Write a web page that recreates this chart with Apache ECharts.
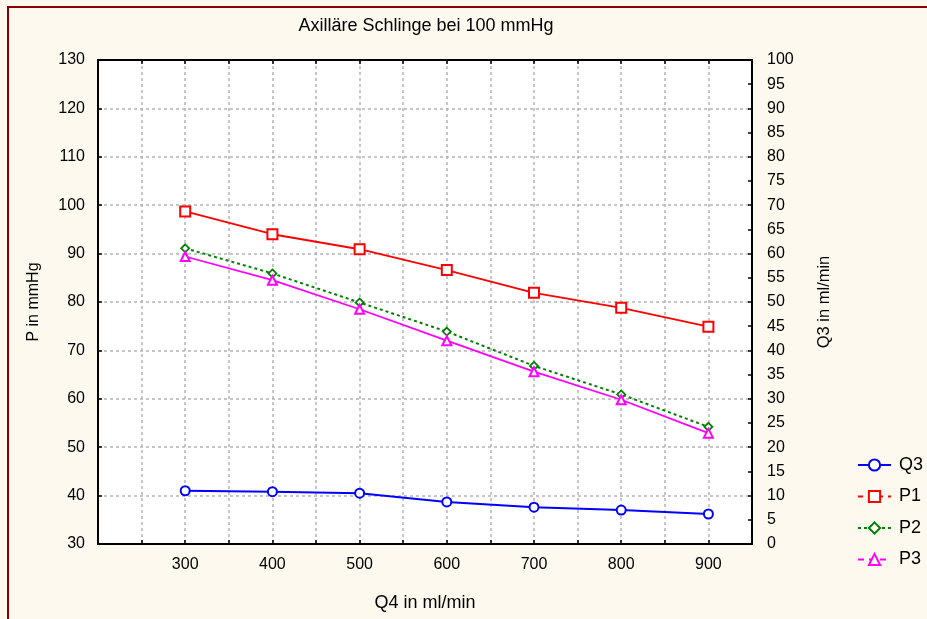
<!DOCTYPE html>
<html>
<head>
<meta charset="utf-8">
<script src="https://cdn.jsdelivr.net/npm/echarts@6/dist/echarts.min.js"></script>
<style>
  html, body { margin:0; padding:0; background:#FEF9EE; width:927px; height:619px; overflow:hidden; }
  #frame { position:absolute; left:7px; top:6px; width:940px; height:640px; border:2px solid #8B0000; box-sizing:border-box; background:#FEF9EE; }
  #chart { position:absolute; left:0; top:0; width:927px; height:619px; }
</style>
</head>
<body>
<div id="frame"></div>
<div id="chart"></div>
<script>
// ---- data ----
const titleText = 'Axilläre Schlinge bei 100 mmHg';
const xValues = [300, 400, 500, 600, 700, 800, 900];
const q3 = [11.0, 10.8, 10.5, 8.7, 7.6, 7.0, 6.2];
const p1 = [98.7, 94.0, 90.9, 86.6, 81.9, 78.8, 74.9];
const p2 = [91.1, 85.9, 79.9, 73.9, 66.8, 60.9, 54.2];
const p3 = [89.4, 84.5, 78.5, 72.0, 65.6, 59.8, 52.9];
const xLabels = [300, 400, 500, 600, 700, 800, 900];
const xName = 'Q4 in ml/min';
const yLeftName = 'P in mmHg';
const yRightName = 'Q3 in ml/min';

const pairs = arr => xValues.map((x, i) => [x, arr[i]]);
const FONT = 'Liberation Sans, Arial, sans-serif';

const chart = echarts.init(document.getElementById('chart'), null, { renderer: 'canvas' });

const gridLine = { show: true, lineStyle: { color: '#b4b4b4', type: [3, 3], width: 1.5 } };
const axLine = { show: true, lineStyle: { color: '#000', width: 2 } };
const axTick = { show: true, inside: true, length: 4, lineStyle: { color: '#000', width: 1.5 } };

chart.setOption({
  animation: false,
  backgroundColor: 'transparent',
  textStyle: { fontFamily: FONT },
  title: {
    text: titleText, left: 421, top: 12, textAlign: 'center',
    textStyle: { fontFamily: FONT, fontSize: 18, fontWeight: 'normal', color: '#000' }
  },
  grid: { left: 98, right: 175, top: 60, bottom: 75, show: true, backgroundColor: '#fff', borderColor: '#000', borderWidth: 2 },
  legend: {
    orient: 'vertical', left: 852, top: 451,
    itemWidth: 33, itemHeight: 14, itemGap: 13.5,
    textStyle: { fontFamily: FONT, fontSize: 18, color: '#000', padding: [0, 0, 0, 3] },
    data: [
      { name: 'Q3' },
      { name: 'P1', lineStyle: { type: [5, 5] } },
      { name: 'P2' },
      { name: 'P3', lineStyle: { type: [6, 5] } }
    ]
  },
  xAxis: [
    {
      type: 'value', min: 200, max: 950, interval: 50, position: 'bottom',
      name: xName, nameLocation: 'middle', nameGap: 50,
      nameTextStyle: { fontFamily: FONT, fontSize: 18, color: '#000' },
      axisLine: axLine, axisTick: axTick, splitLine: gridLine,
      axisLabel: {
        margin: 13, fontFamily: FONT, fontSize: 16, color: '#000',
        formatter: v => (xLabels.indexOf(v) >= 0 ? String(v) : '')
      }
    },
    {
      type: 'value', min: 200, max: 950, interval: 50, position: 'top',
      axisLine: axLine, axisTick: axTick, splitLine: { show: false }, axisLabel: { show: false }
    }
  ],
  yAxis: [
    {
      type: 'value', min: 30, max: 130, interval: 10, position: 'left',
      name: yLeftName, nameLocation: 'middle', nameGap: 56, nameRotate: 90,
      nameTextStyle: { fontFamily: FONT, fontSize: 16, color: '#000' },
      axisLine: axLine, axisTick: axTick, splitLine: gridLine,
      axisLabel: { margin: 13, fontFamily: FONT, fontSize: 16, color: '#000' }
    },
    {
      type: 'value', min: 0, max: 100, interval: 5, position: 'right',
      name: yRightName, nameLocation: 'middle', nameGap: 64, nameRotate: 90,
      nameTextStyle: { fontFamily: FONT, fontSize: 16.5, color: '#000' },
      axisLine: axLine, axisTick: axTick, splitLine: { show: false },
      axisLabel: { margin: 15, fontFamily: FONT, fontSize: 16, color: '#000' }
    }
  ],
  series: [
    {
      name: 'Q3', type: 'line', yAxisIndex: 1, data: pairs(q3),
      symbol: 'circle', symbolSize: 9,
      lineStyle: { color: '#0000FF', width: 2 },
      itemStyle: { color: '#fff', borderColor: '#0000FF', borderWidth: 2 }
    },
    {
      name: 'P1', type: 'line', yAxisIndex: 0, data: pairs(p1),
      symbol: 'rect', symbolSize: 10,
      lineStyle: { color: '#FF0000', width: 1.8 },
      itemStyle: { color: '#fff', borderColor: '#FF0000', borderWidth: 2 }
    },
    {
      name: 'P2', type: 'line', yAxisIndex: 0, data: pairs(p2),
      symbol: 'diamond', symbolSize: 8,
      lineStyle: { color: '#008000', width: 2, type: [3, 3] },
      itemStyle: { color: '#fff', borderColor: '#008000', borderWidth: 1.8 }
    },
    {
      name: 'P3', type: 'line', yAxisIndex: 0, data: pairs(p3),
      symbol: 'triangle', symbolSize: 9,
      lineStyle: { color: '#FF00FF', width: 1.8 },
      itemStyle: { color: '#fff', borderColor: '#FF00FF', borderWidth: 2 }
    }
  ]
});
</script>
</body>
</html>
